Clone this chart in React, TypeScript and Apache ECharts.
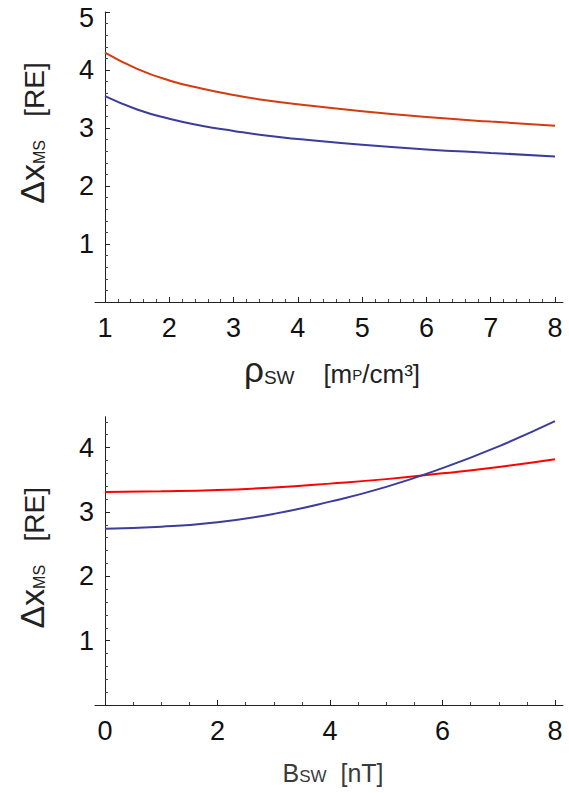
import React, { useEffect, useRef } from "react";
import * as echarts from "echarts";

// ---- Data ----
const rhoX = [1, 1.5, 2, 2.5, 3, 3.5, 4, 5, 6, 7, 8];
const rhoRed = [4.3, 4.02, 3.82, 3.68, 3.57, 3.48, 3.41, 3.29, 3.19, 3.11, 3.04];
const rhoBlue = [3.55, 3.32, 3.16, 3.04, 2.95, 2.87, 2.81, 2.71, 2.63, 2.57, 2.51];

const bX = [0, 1, 2, 3, 4, 5, 6, 7, 8];
const bRed = [3.31, 3.32, 3.34, 3.38, 3.44, 3.51, 3.6, 3.7, 3.82];
const bBlue = [2.74, 2.77, 2.84, 2.97, 3.16, 3.39, 3.68, 4.02, 4.41];

const bottomYMajor = [1, 2, 3, 4];
const bottomYMinor: number[] = [];
for (let i = 1; i <= 22; i++) if (i % 5 !== 0) bottomYMinor.push(Math.round(i * 2) / 10);

const FONT = '"Liberation Sans", Arial, Helvetica, sans-serif';
const AX = "#222";
const TOP_RED = "#d23c0f";
const BLUE = "#3c3c9c";
const BOT_RED = "#ff0000";
const NB = "\u00a0";

const pairs = (xs: number[], ys: number[]) => xs.map((x, i) => [x, ys[i]]);

const tickLabel = {
  fontFamily: FONT,
  fontSize: 27,
  color: "#111",
};

export default function App() {
  const ref = useRef<HTMLDivElement>(null);
  useEffect(() => {
    if (!ref.current) return;
    const chart = echarts.init(ref.current, undefined, { renderer: "svg" });

    const lineAxisX = (gridIndex: number) => ({
      gridIndex,
      type: "value",
      min: 0,
      max: 1,
      axisLine: { show: true, onZero: false, lineStyle: { color: AX, width: 1 } },
      axisTick: { show: false },
      axisLabel: { show: false },
      splitLine: { show: false },
    });
    const hiddenY = (gridIndex: number) => ({
      gridIndex,
      type: "value",
      min: 0,
      max: 1,
      show: false,
    });

    const yName = (shift: number) => ({
      name: `{d|Δx}{s|MS}{r|${NB}${NB}${NB}[RE]}`,
      nameLocation: "middle",
      nameRotate: 90,
      nameGap: 56,
      nameTextStyle: {
        padding: [0, 0, 0, shift],
        rich: {
          d: { fontFamily: FONT, fontSize: 34, color: "#222", verticalAlign: "bottom" },
          s: { fontFamily: FONT, fontSize: 16, color: "#222", verticalAlign: "bottom", padding: [0, 0, 2, 0] },
          r: { fontFamily: FONT, fontSize: 28, color: "#222", verticalAlign: "bottom", padding: [0, 0, 1, 0] },
        },
      },
    });

    const option: any = {
      animation: false,
      backgroundColor: "#fff",
      grid: [
        { left: 105, right: 14, top: 12, height: 290 },
        { left: 95, right: 6, top: 12, height: 290 },
        { left: 105, right: 14, top: 416.7, height: 288.3 },
        { left: 95, right: 6, top: 416.7, height: 288.3 },
      ],
      xAxis: [
        {
          gridIndex: 0,
          type: "value",
          min: 1,
          max: 8,
          interval: 1,
          axisLine: { show: false },
          axisTick: { show: true, inside: true, length: 5, lineStyle: { color: AX } },
          minorTick: { show: true, splitNumber: 5, length: 3, lineStyle: { color: "#444" } },
          axisLabel: { ...tickLabel, margin: 12 },
          splitLine: { show: false },
          name: `{g|ρ}{s|SW}{b|${NB}${NB}${NB}${NB}[m}{p|P}{b|/cm³]}`,
          nameLocation: "middle",
          nameGap: 50,
          nameTextStyle: {
            padding: [0, 0, 0, 4],
            rich: {
              g: { fontFamily: FONT, fontSize: 35, color: "#222", verticalAlign: "bottom" },
              s: { fontFamily: FONT, fontSize: 19, color: "#222", verticalAlign: "bottom" },
              b: { fontFamily: FONT, fontSize: 26, color: "#222", verticalAlign: "bottom" },
              p: { fontFamily: FONT, fontSize: 15, color: "#222", verticalAlign: "bottom", padding: [0, 0, 5, 0] },
            },
          },
        },
        lineAxisX(1),
        {
          gridIndex: 2,
          type: "value",
          min: 0,
          max: 8,
          interval: 2,
          axisLine: { show: false },
          axisTick: { show: true, inside: true, length: 5, lineStyle: { color: AX } },
          minorTick: { show: true, splitNumber: 4, length: 3, lineStyle: { color: "#444" } },
          axisLabel: { ...tickLabel, margin: 12 },
          splitLine: { show: false },
          name: `{b|B}{s|SW}{b|${NB}${NB}[nT]}`,
          nameLocation: "middle",
          nameGap: 55,
          nameTextStyle: {
            padding: [0, 0, 0, 6],
            rich: {
              b: { fontFamily: FONT, fontSize: 25, color: "#3a3a3a", verticalAlign: "bottom" },
              s: { fontFamily: FONT, fontSize: 17, color: "#3a3a3a", verticalAlign: "bottom" },
            },
          },
        },
        lineAxisX(3),
      ],
      yAxis: [
        {
          gridIndex: 0,
          type: "value",
          min: 0,
          max: 5,
          interval: 1,
          axisLine: { show: true, lineStyle: { color: AX, width: 1 } },
          axisTick: { show: true, inside: true, length: 5, lineStyle: { color: AX } },
          minorTick: { show: true, splitNumber: 5, length: 3, lineStyle: { color: "#444" } },
          axisLabel: {
            ...tickLabel,
            margin: 11,
            formatter: (v: number) => (v === 0 ? "" : v === 5 ? "{t|5}" : String(v)),
            rich: {
              t: { fontFamily: FONT, fontSize: 27, color: "#111", padding: [12, 0, 0, 0] },
            },
          },
          splitLine: { show: false },
          ...yName(48),
        },
        hiddenY(1),
        {
          gridIndex: 2,
          type: "value",
          position: "left",
          min: 0,
          max: 4.48,
          axisLine: { show: true, lineStyle: { color: AX, width: 1 } },
          axisTick: { show: true, inside: true, length: 5, customValues: bottomYMajor, lineStyle: { color: AX } },
          axisLabel: { ...tickLabel, margin: 11, customValues: bottomYMajor },
          splitLine: { show: false },
          ...yName(6),
        },
        hiddenY(3),
        {
          gridIndex: 2,
          type: "value",
          position: "left",
          offset: 0,
          min: 0,
          max: 4.48,
          axisLine: { show: false },
          axisTick: { show: true, inside: true, length: 3, customValues: bottomYMinor, lineStyle: { color: "#444" } },
          axisLabel: { show: false },
          splitLine: { show: false },
        },
      ],
      series: [
        {
          type: "line",
          xAxisIndex: 0,
          yAxisIndex: 0,
          data: pairs(rhoX, rhoRed),
          smooth: true,
          showSymbol: false,
          lineStyle: { color: TOP_RED, width: 2 },
        },
        {
          type: "line",
          xAxisIndex: 0,
          yAxisIndex: 0,
          data: pairs(rhoX, rhoBlue),
          smooth: true,
          showSymbol: false,
          lineStyle: { color: BLUE, width: 2 },
        },
        {
          type: "line",
          xAxisIndex: 2,
          yAxisIndex: 2,
          data: pairs(bX, bRed),
          smooth: true,
          showSymbol: false,
          lineStyle: { color: BOT_RED, width: 2 },
        },
        {
          type: "line",
          xAxisIndex: 2,
          yAxisIndex: 2,
          data: pairs(bX, bBlue),
          smooth: true,
          showSymbol: false,
          lineStyle: { color: BLUE, width: 2 },
        },
      ],
    };
    chart.setOption(option);
    return () => chart.dispose();
  }, []);

  return (
    <div
      ref={ref}
      style={{ position: "fixed", left: 0, top: 0, width: 569, height: 793, background: "#fff" }}
    />
  );
}
